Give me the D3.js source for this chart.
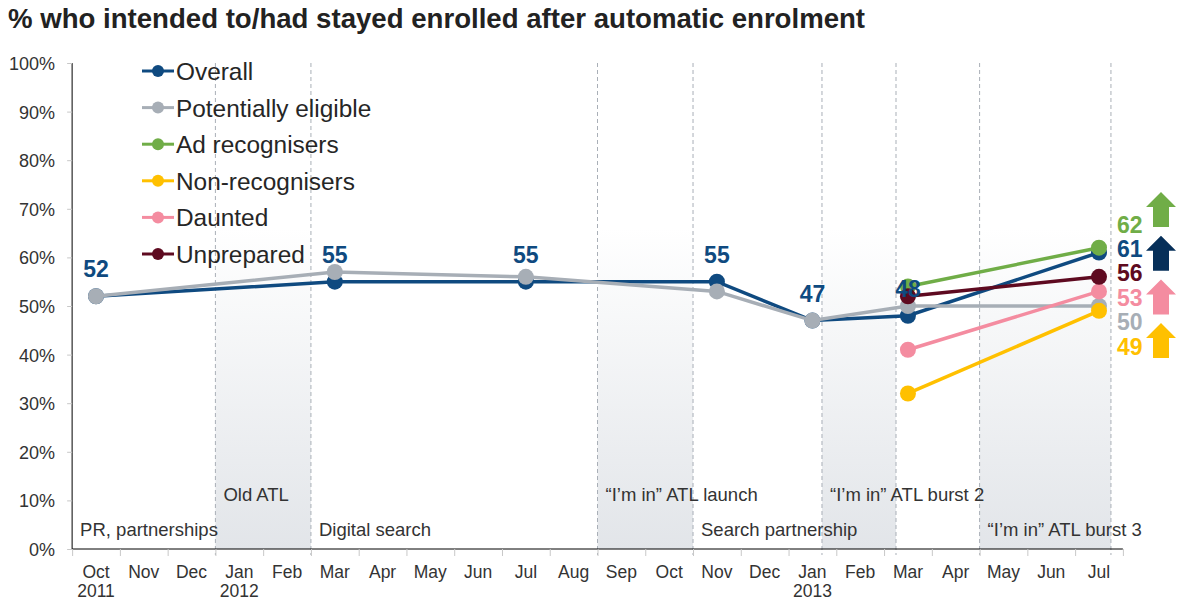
<!DOCTYPE html>
<html>
<head>
<meta charset="utf-8">
<script src="https://cdn.jsdelivr.net/npm/d3@7/dist/d3.min.js"></script>
<style>
  html, body { margin: 0; padding: 0; background: #fff; }
  svg { display: block; font-family: "Liberation Sans", Arial, Helvetica, sans-serif; }
</style>
</head>
<body>
<script>
// Month axis, Oct 2011 .. Jul 2013 (index 0 .. 21)
const months = ["Oct","Nov","Dec","Jan","Feb","Mar","Apr","May","Jun","Jul","Aug",
                "Sep","Oct","Nov","Dec","Jan","Feb","Mar","Apr","May","Jun","Jul"];
const yearLabels = ["2011","","","2012","","","","","","","","","","","","2013","","","","","",""];

// Survey waves (month index)
const waves = [0, 5, 9, 13, 15, 17, 21];

// % who intended to / had stayed enrolled
const overall             = [52, 55, 55, 55, 47, 48, 61];
const potentiallyEligible = [52, 57, 56, 53, 47, 50, 50];
const adRecognisers       = [null, null, null, null, null, 54, 62];
const nonRecognisers      = [null, null, null, null, null, 32, 49];
const daunted             = [null, null, null, null, null, 41, 53];
const unprepared          = [null, null, null, null, null, 52, 56];

const seriesNames  = ["Overall", "Potentially eligible", "Ad recognisers", "Non-recognisers", "Daunted", "Unprepared"];
const seriesValues = [overall, potentiallyEligible, adRecognisers, nonRecognisers, daunted, unprepared];
const seriesColors = ["#0f4a80", "#a7aeb6", "#70ad47", "#ffc000", "#f48ca0", "#5e0a20"];
const arrowColors  = ["#062f59", null, "#70ad47", "#ffc000", "#f48ca0", null];
const significantRise = [true, false, true, true, true, false];

// Campaign activity periods (month index) and their labels
const campaignLabels = ["PR, partnerships", "Old ATL", "Digital search", "\u201cI\u2019m in\u201d ATL launch",
                        "Search partnership", "\u201cI\u2019m in\u201d ATL burst 2", "\u201cI\u2019m in\u201d ATL burst 3"];
const campaignStart  = [-0.5, 2.5, 4.5, 10.5, 12.5, 15.2, 18.5];
const campaignRow    = [2, 1, 2, 1, 2, 1, 2];
const shadedStart    = [2.5, 10.5, 15.2, 18.5];
const shadedEnd      = [4.5, 12.5, 16.75, 21.25];

const yTicks = [0, 10, 20, 30, 40, 50, 60, 70, 80, 90, 100];

const W = 1177, H = 601;
const svg = d3.select("body").append("svg").attr("width", W).attr("height", H);

const x = d3.scaleLinear().domain([0, 21]).range([96, 1099]);
const y = d3.scaleLinear().domain([0, 100]).range([549, 63]);
const x0 = x(-0.5), x1 = x(21.5);

// Title
svg.append("text")
  .attr("x", 8).attr("y", 28)
  .attr("font-size", 27.6).attr("font-weight", "bold").attr("fill", "#222")
  .text("% who intended to/had stayed enrolled after automatic enrolment");

// Shaded campaign bands: white at top fading to light grey at the axis
const defs = svg.append("defs");
const grad = defs.append("linearGradient").attr("id", "band")
  .attr("gradientUnits", "userSpaceOnUse")
  .attr("x1", 0).attr("x2", 0).attr("y1", y(100)).attr("y2", y(0));
grad.append("stop").attr("offset", 0).attr("stop-color", "#ffffff");
grad.append("stop").attr("offset", 0.34).attr("stop-color", "#ffffff");
grad.append("stop").attr("offset", 1).attr("stop-color", "#e2e5e9");

svg.append("g").selectAll("rect").data(d3.range(shadedStart.length)).join("rect")
  .attr("x", i => x(shadedStart[i]))
  .attr("width", i => x(shadedEnd[i]) - x(shadedStart[i]))
  .attr("y", y(100)).attr("height", y(0) - y(100))
  .attr("fill", "url(#band)");

const edges = shadedStart.concat(shadedEnd);
svg.append("g").selectAll("line").data(edges).join("line")
  .attr("x1", d => x(d)).attr("x2", d => x(d))
  .attr("y1", y(100)).attr("y2", y(0) + 6)
  .attr("stroke", "#a9afb7").attr("stroke-width", 1).attr("stroke-dasharray", "4,3");

// Campaign labels
svg.append("g").selectAll("text").data(d3.range(campaignLabels.length)).join("text")
  .attr("x", i => x(campaignStart[i]) + 8)
  .attr("y", i => campaignRow[i] === 1 ? 501 : 536)
  .attr("font-size", 18.5).attr("fill", "#333")
  .text(i => campaignLabels[i]);

// Y axis
const yAxis = svg.append("g").attr("transform", `translate(${x0},0)`)
  .call(d3.axisLeft(y).tickValues(yTicks).tickSize(5).tickFormat(d => d + "%"));
yAxis.select(".domain").attr("stroke", "#000").attr("d", `M0,${y(100)}V${y(0)}`);
yAxis.selectAll(".tick line").attr("stroke", "#c8c8c8");
yAxis.selectAll(".tick text").attr("font-size", 18).attr("fill", "#333")
  .attr("font-family", null).attr("x", -17).attr("dy", "0.36em");

// X axis: month ticks sit on the month boundaries, labels on the months
const xAxis = svg.append("g").attr("transform", `translate(0,${y(0)})`)
  .call(d3.axisBottom(x).tickValues(d3.range(-0.5, 22, 1)).tickSize(7).tickFormat(""));
xAxis.select(".domain").attr("stroke", "#000").attr("d", `M${x0},0H${x1}`);
xAxis.selectAll(".tick line").attr("stroke", "#c8c8c8");

svg.append("g").selectAll("text").data(months).join("text")
  .attr("x", (d, i) => x(i)).attr("y", 578)
  .attr("text-anchor", "middle").attr("font-size", 17.5).attr("fill", "#333")
  .text(d => d);
svg.append("g").selectAll("text").data(yearLabels).join("text")
  .attr("x", (d, i) => x(i)).attr("y", 597)
  .attr("text-anchor", "middle").attr("font-size", 17.5).attr("fill", "#333")
  .text(d => d);

// Series lines and markers
const line = d3.line()
  .defined(d => d.v != null)
  .x(d => x(d.m)).y(d => y(d.v));

seriesValues.forEach((vals, s) => {
  const pts = vals.map((v, i) => ({ m: waves[i], v }));
  const g = svg.append("g");
  g.append("path").datum(pts)
    .attr("d", line).attr("fill", "none")
    .attr("stroke", seriesColors[s]).attr("stroke-width", 3.5);
  g.selectAll("circle").data(pts.filter(d => d.v != null)).join("circle")
    .attr("cx", d => x(d.m)).attr("cy", d => y(d.v)).attr("r", 8)
    .attr("fill", seriesColors[s]);
});

// Value labels for the overall series
svg.append("g").selectAll("text").data(overall.slice(0, overall.length - 1)).join("text")
  .attr("x", (d, i) => x(waves[i])).attr("y", d => y(d) - 19)
  .attr("text-anchor", "middle").attr("font-size", 23).attr("font-weight", "bold")
  .attr("fill", seriesColors[0])
  .text(d => d);

// End-of-period values, stacked in a column beside the last wave
const last = waves.length - 1;
const order = d3.range(seriesValues.length).sort((a, b) => seriesValues[b][last] - seriesValues[a][last]);
const topBase = y(seriesValues[order[0]][last]) - 15;
const step = 24.4;
svg.append("g").selectAll("text").data(order).join("text")
  .attr("x", 1117).attr("y", (s, k) => topBase + k * step)
  .attr("font-size", 23).attr("font-weight", "bold")
  .attr("fill", s => seriesColors[s])
  .text(s => seriesValues[s][last]);

// Arrows marking significant rises
const risers = order.filter(s => significantRise[s]);
const arrow = d3.path();
const aw = 30, sw = 16, ah = 35, hh = 15;
arrow.moveTo(0, 0);
arrow.lineTo(aw / 2, hh);
arrow.lineTo(sw / 2, hh);
arrow.lineTo(sw / 2, ah);
arrow.lineTo(-sw / 2, ah);
arrow.lineTo(-sw / 2, hh);
arrow.lineTo(-aw / 2, hh);
arrow.closePath();
svg.append("g").selectAll("path").data(risers).join("path")
  .attr("transform", (s, k) => `translate(1161,${192 + k * 43.7})`)
  .attr("d", arrow.toString())
  .attr("fill", s => arrowColors[s]);

// Legend
const legend = svg.append("g");
seriesNames.forEach((name, i) => {
  const cy = 71 + i * 36.6;
  legend.append("line").attr("x1", 142).attr("x2", 174).attr("y1", cy).attr("y2", cy)
    .attr("stroke", seriesColors[i]).attr("stroke-width", 3);
  legend.append("circle").attr("cx", 158).attr("cy", cy).attr("r", 6).attr("fill", seriesColors[i]);
  legend.append("text").attr("x", 176).attr("y", cy + 9)
    .attr("font-size", 24.4).attr("fill", "#262626").text(name);
});
</script>
</body>
</html>
